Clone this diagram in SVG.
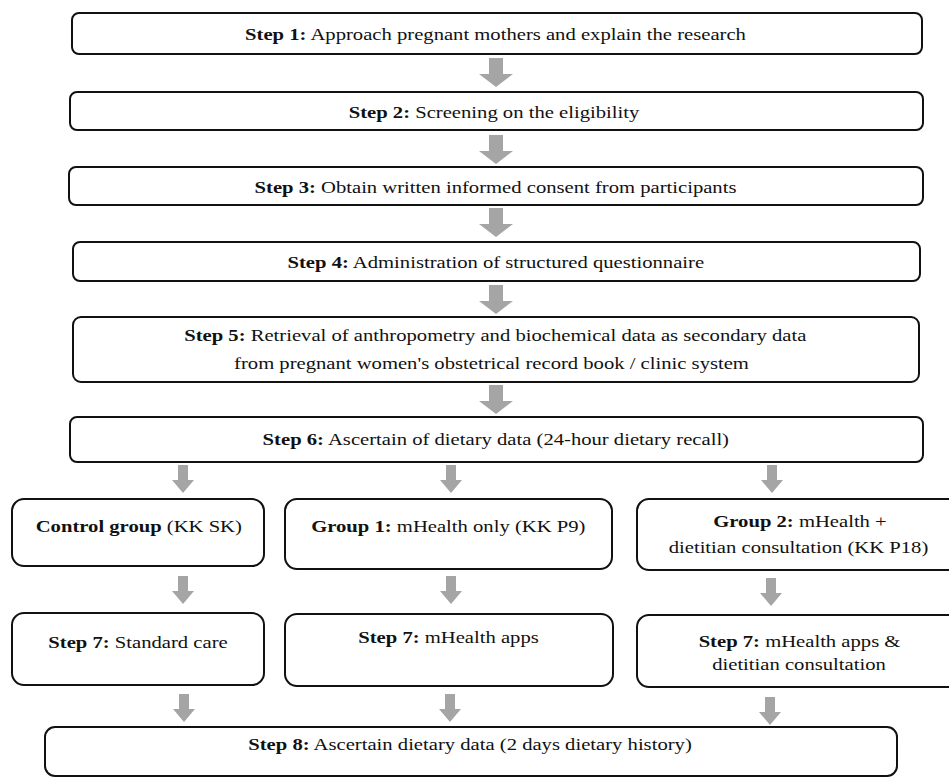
<svg xmlns="http://www.w3.org/2000/svg" xmlns:xlink="http://www.w3.org/1999/xlink" width="949" height="782" viewBox="0 0 949 782">
<style>
.box{fill:#fff;stroke:#111;stroke-width:2}
.t{font-family:"Liberation Serif","Times New Roman",serif;font-size:17.5px;fill:#111;text-anchor:middle}
.b{font-weight:bold}
.arr{fill:#a5a5a5}
</style>
<defs>
<path id="bigArrow" d="M-7 0H7V16H17L0 29L-17 16H-7Z"/>
<path id="smallArrow" d="M-5 0H5V15H11L0 28L-11 15H-5Z"/>
</defs>
<rect width="949" height="782" fill="#fff"/>
<g id="connectors" class="arr">
<use xlink:href="#bigArrow" x="496" y="58"/>
<use xlink:href="#bigArrow" x="496" y="135"/>
<use xlink:href="#bigArrow" x="496" y="208"/>
<use xlink:href="#bigArrow" x="496" y="285"/>
<use xlink:href="#bigArrow" x="496" y="385"/>
<use xlink:href="#smallArrow" x="183" y="465"/>
<use xlink:href="#smallArrow" x="451" y="465"/>
<use xlink:href="#smallArrow" x="772" y="465"/>
<use xlink:href="#smallArrow" x="183" y="576"/>
<use xlink:href="#smallArrow" x="451" y="576"/>
<use xlink:href="#smallArrow" x="771" y="578"/>
<use xlink:href="#smallArrow" x="184" y="694"/>
<use xlink:href="#smallArrow" x="450" y="694"/>
<use xlink:href="#smallArrow" x="770" y="697"/>
</g>
<g id="step1">
<rect class="box" x="72" y="13" width="850" height="41" rx="7"/>
<text class="t" transform="matrix(1.18 0 0 1 495.5 40)"><tspan class="b">Step 1:</tspan> Approach pregnant mothers and explain the research</text>
</g>
<g id="step2">
<rect class="box" x="70" y="92" width="853" height="38" rx="7"/>
<text class="t" transform="matrix(1.18 0 0 1 494 118)"><tspan class="b">Step 2:</tspan> Screening on the eligibility</text>
</g>
<g id="step3">
<rect class="box" x="69" y="167" width="854" height="38" rx="7"/>
<text class="t" transform="matrix(1.18 0 0 1 495.5 192.5)"><tspan class="b">Step 3:</tspan> Obtain written informed consent from participants</text>
</g>
<g id="step4">
<rect class="box" x="73" y="242" width="847" height="39" rx="7"/>
<text class="t" transform="matrix(1.18 0 0 1 495.8 267.5)"><tspan class="b">Step 4:</tspan> Administration of structured questionnaire</text>
</g>
<g id="step5">
<rect class="box" x="73" y="317" width="846" height="65" rx="8"/>
<text class="t" transform="matrix(1.18 0 0 1 495.3 341)"><tspan class="b">Step 5:</tspan> Retrieval of anthropometry and biochemical data as secondary data</text>
<text class="t" transform="matrix(1.18 0 0 1 491.5 369.3)">from pregnant women's obstetrical record book / clinic system</text>
</g>
<g id="step6">
<rect class="box" x="70" y="417" width="853" height="45" rx="7"/>
<text class="t" transform="matrix(1.18 0 0 1 495.8 445)"><tspan class="b">Step 6:</tspan> Ascertain of dietary data (24-hour dietary recall)</text>
</g>
<g id="control">
<rect class="box" x="12" y="499" width="252" height="67" rx="12"/>
<text class="t" transform="matrix(1.18 0 0 1 138.8 531.7)"><tspan class="b">Control group</tspan> (KK SK)</text>
</g>
<g id="group1">
<rect class="box" x="285" y="499" width="327" height="70" rx="12"/>
<text class="t" transform="matrix(1.18 0 0 1 448.3 532)"><tspan class="b">Group 1:</tspan> mHealth only (KK P9)</text>
</g>
<g id="group2">
<rect class="box" x="637" y="499" width="330" height="71" rx="12"/>
<text class="t" transform="matrix(1.18 0 0 1 800 526.7)"><tspan class="b">Group 2:</tspan> mHealth +</text>
<text class="t" transform="matrix(1.18 0 0 1 798.5 552.7)">dietitian consultation (KK P18)</text>
</g>
<g id="step7control">
<rect class="box" x="12" y="613" width="252" height="72" rx="12"/>
<text class="t" transform="matrix(1.18 0 0 1 138 648.3)"><tspan class="b">Step 7:</tspan> Standard care</text>
</g>
<g id="step7group1">
<rect class="box" x="285" y="614" width="328" height="72" rx="12"/>
<text class="t" transform="matrix(1.18 0 0 1 448.5 643.3)"><tspan class="b">Step 7:</tspan> mHealth apps</text>
</g>
<g id="step7group2">
<rect class="box" x="637" y="615" width="330" height="72" rx="12"/>
<text class="t" transform="matrix(1.18 0 0 1 799.5 646.7)"><tspan class="b">Step 7:</tspan> mHealth apps &amp;</text>
<text class="t" transform="matrix(1.18 0 0 1 799 670)">dietitian consultation</text>
</g>
<g id="step8">
<rect class="box" x="45" y="727" width="852" height="49" rx="10"/>
<text class="t" transform="matrix(1.18 0 0 1 470 750)"><tspan class="b">Step 8:</tspan> Ascertain dietary data (2 days dietary history)</text>
</g>
</svg>
